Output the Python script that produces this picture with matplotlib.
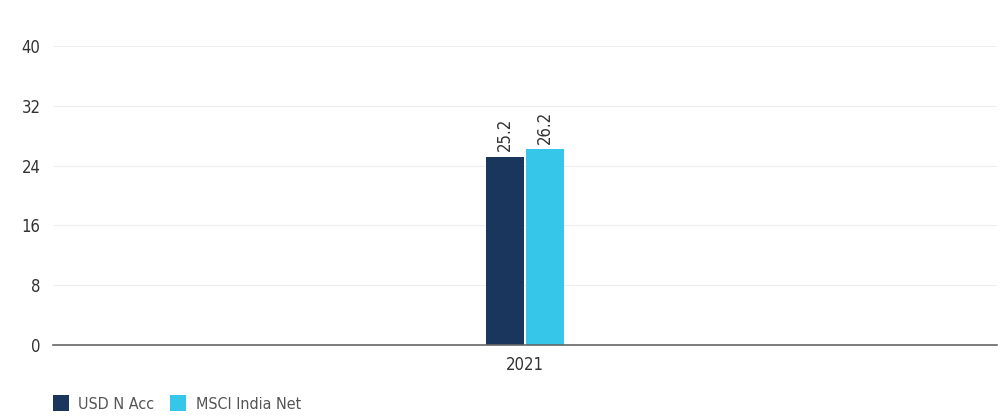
import matplotlib
matplotlib.use("Agg")
import matplotlib.pyplot as plt
import numpy as np

categories = ["2021"]
series_names = ["USD N Acc", "MSCI India Net"]
fund_values = [25.2]
index_values = [26.2]
colors = ["#1b365d", "#35c6e9"]
yticks = [0, 8, 16, 24, 32, 40]

plt.rcParams["font.family"] = ["DejaVu Sans"]
plt.rcParams["font.stretch"] = "condensed"

fig = plt.figure(figsize=(10.06, 4.17), dpi=100)
ax = fig.add_axes([0.0527, 0.1727, 0.9383, 0.717])

x = np.arange(len(categories))
w = 0.0400
gap = 0.0015
b1 = ax.bar(x - w / 2 - gap, fund_values, w, color=colors[0], label=series_names[0], zorder=3)
b2 = ax.bar(x + w / 2 + gap, index_values, w, color=colors[1], label=series_names[1], zorder=3)

for bars, vals in ((b1, fund_values), (b2, index_values)):
    for r, v in zip(bars, vals):
        ax.annotate(f"{v:.1f}", (r.get_x() + r.get_width() / 2, r.get_height()),
                    xytext=(0, 4), textcoords="offset points", rotation=90,
                    ha="center", va="bottom", fontsize=12, color="#333333")

ax.set_xlim(-0.5, 0.5)
ax.set_ylim(0, 40)
ax.set_yticks(yticks)
ax.set_yticklabels([str(t) for t in yticks], fontsize=12, color="#333333")
ax.set_xticks(x)
ax.set_xticklabels(categories, fontsize=12, color="#333333")
ax.tick_params(axis="y", length=0, pad=9)
ax.tick_params(axis="x", length=0, pad=8)
ax.grid(axis="y", color="#eeeeee", linewidth=0.8, zorder=0)
for s in ["top", "right", "left"]:
    ax.spines[s].set_visible(False)
ax.spines["bottom"].set_color("#666666")
ax.spines["bottom"].set_linewidth(1.2)
ax.spines["bottom"].set_zorder(4)

leg = fig.legend(handles=[b1, b2], labels=series_names, loc="lower left",
                 bbox_to_anchor=(0.038, -0.022), ncol=2, frameon=False,
                 fontsize=11.5, handlelength=1.0, handleheight=1.15,
                 columnspacing=1.0, handletextpad=0.6)
for t in leg.get_texts():
    t.set_color("#555555")

fig.savefig("out.png", dpi=100)
